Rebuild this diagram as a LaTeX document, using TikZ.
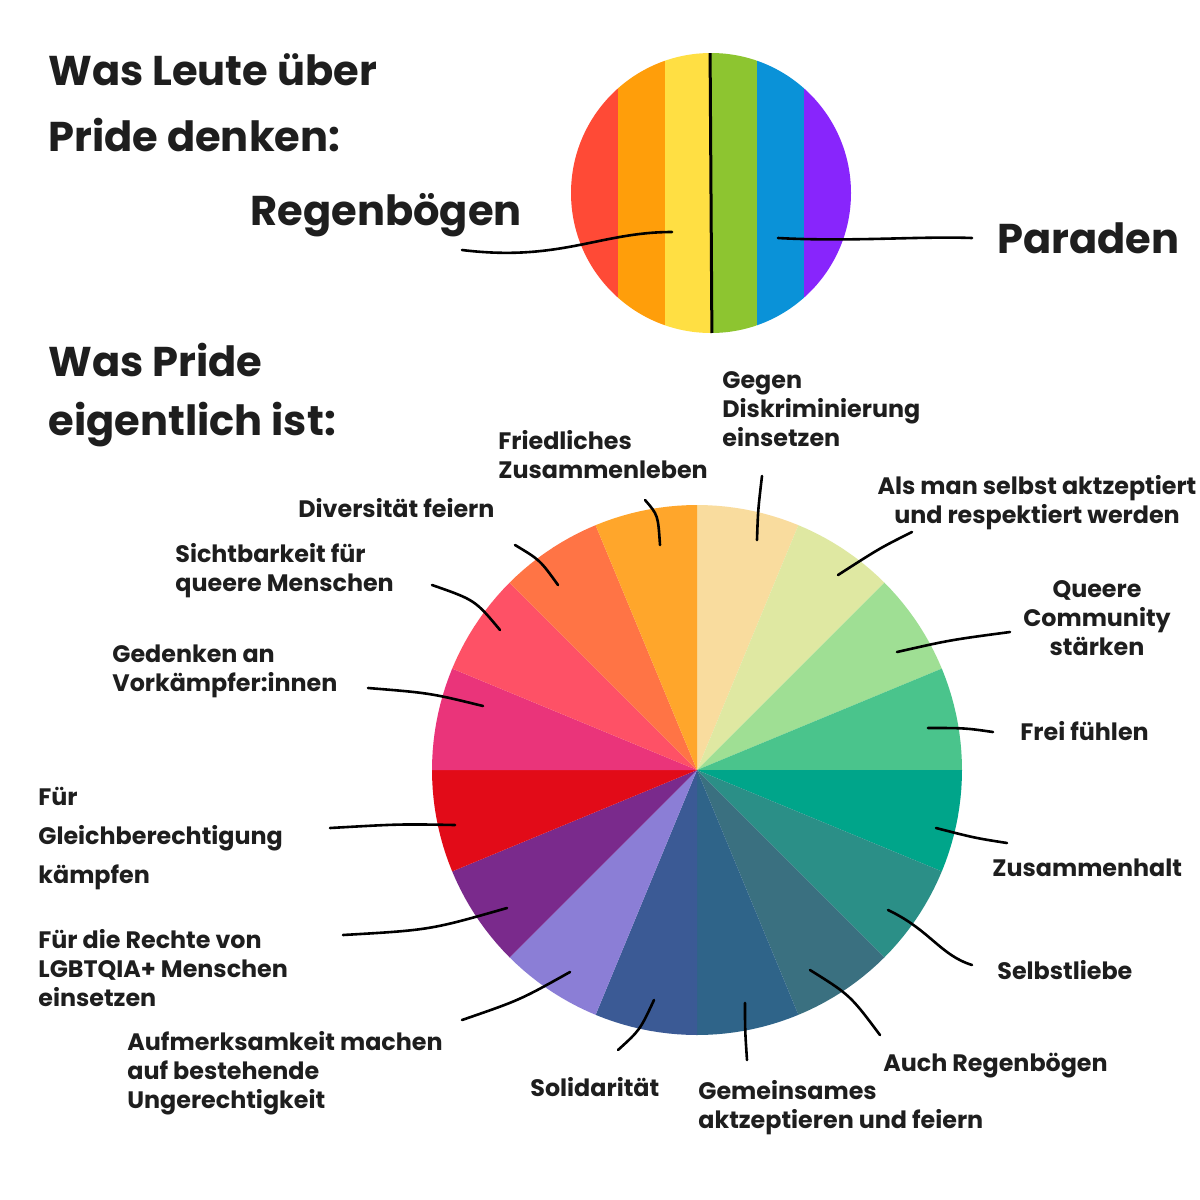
\documentclass[tikz,border=0pt]{standalone}
\usepackage{fontspec}
\setmainfont{Poppins}
\begin{document}
\begin{tikzpicture}[x=0.5pt,y=-0.5pt,
  lbl/.style={inner sep=0pt,font=\fontsize{11.9}{14.5}\selectfont\bfseries,text=txt,align=left},
  ttl/.style={inner sep=0pt,font=\fontsize{20.8}{32}\selectfont\bfseries,text=txt,anchor=west},
  lead/.style={line width=1.3pt,line cap=round,black}]
\definecolor{txt}{HTML}{1E1E1E}
\useasboundingbox (0,0) rectangle (1200,1200);
\fill[white] (0,0) rectangle (1200,1200);
% top circle
\begin{scope}
\clip (711,193) circle[radius=70pt];
\definecolor{c1}{HTML}{FF4A36}\definecolor{c2}{HTML}{FF9E0A}\definecolor{c3}{HTML}{FFDF43}
\definecolor{c4}{HTML}{8DC530}\definecolor{c5}{HTML}{0A92D8}\definecolor{c6}{HTML}{8825FC}
\fill[c1] (560,40) rectangle (618,350);
\fill[c2] (618,40) rectangle (665,350);
\fill[c3] (665,40) rectangle (711,350);
\fill[c4] (711,40) rectangle (757,350);
\fill[c5] (757,40) rectangle (804,350);
\fill[c6] (804,40) rectangle (860,350);
\draw[line width=1.5pt] (710,40) -- (712,350);
\end{scope}
% pie
\foreach \a/\b/\c in {90/67.5/F9DC9E,67.5/45/DFE8A2,45/22.5/9FDF94,22.5/0/4AC48C,0/-22.5/00A58A,-22.5/-45/2B8F87,-45/-67.5/3A7080,-67.5/-90/2F6489,-90/-112.5/3B5A95,-112.5/-135/8B7ED6,-135/-157.5/7A2A8C,-157.5/-180/E20B18,180/157.5/EA347A,157.5/135/FE5166,135/112.5/FF7445,112.5/90/FFA62B}{
  \definecolor{sc}{HTML}{\c}
  \fill[sc] (697,770) -- plot[domain=\a:\b,samples=12] ({697+265*cos(\x)},{770-265*sin(\x)}) -- cycle;
}
% titles
\node[ttl] (t1) at (48,70) {Was Leute über};
\node[ttl] (t2) at (48,135) {Pride denken:};
\node[ttl] (t3) at (48,360) {Was Pride};
\node[ttl] (t4) at (48,425) {eigentlich ist:};
\node[ttl] (rb) at (250,215) {Regenbögen};
\node[ttl] (pa) at (997,238) {Paraden};
\draw[lead] (462,250) .. controls (560,262) and (600,232) .. (672,232);
\draw[lead] (778,238) .. controls (850,242) and (920,236) .. (972,238);
% labels
\node[lbl,anchor=north west] (l1) at (722,371) {Gegen\\Diskriminierung\\einsetzen};
\node[lbl,anchor=north west] (l2) at (498,430) {Friedliches\\Zusammenleben};
\node[lbl,anchor=north,align=center] (l3) at (1037,475) {Als man selbst aktzeptiert\\und respektiert werden};
\node[lbl,anchor=north west] (l4) at (298,498) {Diversität feiern};
\node[lbl,anchor=north,align=center] (l5) at (1097,580) {Queere\\Community\\stärken};
\node[lbl,anchor=north west] (l6) at (175,543) {Sichtbarkeit für\\queere Menschen};
\node[lbl,anchor=north west] (l7) at (112,644) {Gedenken an\\Vorkämpfer:innen};
\node[lbl,anchor=north west] (l8) at (1020,721) {Frei fühlen};
\node[lbl,anchor=north west,font=\fontsize{11.9}{19.5}\selectfont\bfseries] (l9) at (38,787) {Für\\Gleichberechtigung\\kämpfen};
\node[lbl,anchor=north west] (l10) at (992,858) {Zusammenhalt};
\node[lbl,anchor=north west] (l11) at (997,960) {Selbstliebe};
\node[lbl,anchor=north west] (l12) at (38,929) {Für die Rechte von\\LGBTQIA+ Menschen\\einsetzen};
\node[lbl,anchor=north west] (l13) at (883,1053) {Auch Regenbögen};
\node[lbl,anchor=north west] (l14) at (127,1031) {Aufmerksamkeit machen\\auf bestehende\\Ungerechtigkeit};
\node[lbl,anchor=north west] (l15) at (530,1077) {Solidarität};
\node[lbl,anchor=north west] (l16) at (698,1080) {Gemeinsames\\aktzeptieren und feiern};
% leaders
\draw[lead] (762,476) .. controls (758,510) .. (757,540);
\draw[lead] (645,500) .. controls (658,515) .. (660,545);
\draw[lead] (912,532) .. controls (880,548) .. (838,575);
\draw[lead] (515,545) .. controls (540,560) .. (558,585);
\draw[lead] (1010,632) .. controls (950,640) .. (897,652);
\draw[lead] (432,585) .. controls (475,600) .. (500,630);
\draw[lead] (368,688) .. controls (430,693) .. (483,706);
\draw[lead] (928,728) .. controls (965,728) .. (993,732);
\draw[lead] (330,828) .. controls (400,824) .. (455,825);
\draw[lead] (936,828) .. controls (975,838) .. (1007,843);
\draw[lead] (888,910) .. controls (930,930) and (940,955) .. (972,965);
\draw[lead] (343,935) .. controls (430,930) .. (507,908);
\draw[lead] (810,970) .. controls (850,995) .. (880,1035);
\draw[lead] (462,1020) .. controls (520,1000) .. (570,972);
\draw[lead] (618,1050) .. controls (640,1030) .. (654,1000);
\draw[lead] (747,1060) .. controls (745,1030) .. (745,1003);
\end{tikzpicture}
\end{document}
